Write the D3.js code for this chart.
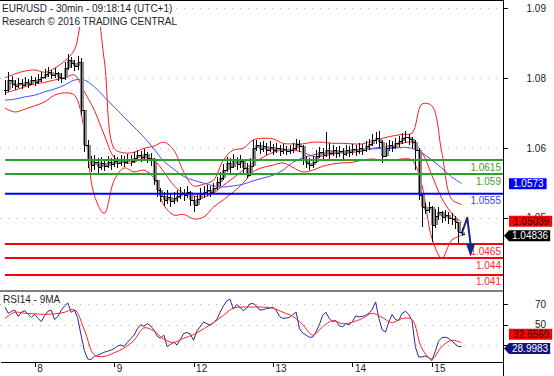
<!DOCTYPE html>
<html>
<head>
<meta charset="utf-8">
<script src="https://cdnjs.cloudflare.com/ajax/libs/d3/7.8.5/d3.min.js"></script>
<style>
  body { margin: 0; background: #fff; }
  svg { display: block; font-family: "Liberation Sans", Arial, sans-serif; }
  .grid line { stroke: #b4b4b4; stroke-dasharray: 1,7; shape-rendering: crispEdges; }
  .axis path, .axis line { stroke: #000; shape-rendering: crispEdges; }
  .axis text { fill: #222; }
</style>
</head>
<body>
<svg id="chart"></svg>
<script>
// ---- chart data -------------------------------------------------------------
const titleText = 'EUR/USD - 30min - 09:18:14 (UTC+1)';
const subtitleText = 'Research \u00a9 2016 TRADING CENTRAL';
const rsiTitle = 'RSI14 - 9MA';

// 30-min slot index of each midnight, and the day shown
const dayTicks = [18, 66, 114, 162, 210, 258];
const dayLabels = ['8', '9', '12', '13', '14', '15'];
const priceTicks = [1.0887, 1.0762, 1.0637, 1.0512];
const rsiTicks = [30, 50, 70];
const rsiTickLabels = ['', '50', '70'];   // the 30 label sits under the value boxes

// hourly bars (every second 30-min slot)
const closes = [
  1.0740,1.0758,1.0751,1.0747,1.0753,1.0749,1.0754,1.0751,1.0758,1.0754,
  1.0760,1.0763,1.0769,1.0772,1.0767,1.0771,1.0763,1.0762,1.0779,1.0794,
  1.0788,1.0783,1.0790,1.0704,1.0642,1.0615,1.0606,1.0611,1.0602,1.0610,
  1.0604,1.0611,1.0608,1.0613,1.0610,1.0615,1.0611,1.0617,1.0613,1.0619,
  1.0624,1.0620,1.0626,1.0619,1.0615,1.0579,1.0561,1.0551,1.0544,1.0549,
  1.0542,1.0547,1.0551,1.0556,1.0552,1.0558,1.0544,1.0535,1.0545,1.0554,
  1.0558,1.0561,1.0558,1.0565,1.0576,1.0583,1.0597,1.0610,1.0602,1.0615,
  1.0608,1.0613,1.0601,1.0588,1.0604,1.0636,1.0642,1.0635,1.0640,1.0633,
  1.0638,1.0633,1.0636,1.0631,1.0635,1.0631,1.0633,1.0636,1.0644,1.0640,
  1.0615,1.0610,1.0606,1.0611,1.0622,1.0629,1.0624,1.0633,1.0628,1.0633,
  1.0628,1.0631,1.0626,1.0633,1.0629,1.0635,1.0631,1.0636,1.0633,1.0640,
  1.0644,1.0651,1.0654,1.0647,1.0622,1.0636,1.0642,1.0638,1.0645,1.0649,
  1.0654,1.0656,1.0652,1.0647,1.0633,1.0552,1.0531,1.0526,1.0531,1.0499,
  1.0515,1.0522,1.0513,1.0517,1.0511,1.0510,1.0504,1.0486,1.04836
];
const highs = [
  1.0758,1.0772,1.0765,1.0758,1.0762,1.0760,1.0763,1.0760,1.0765,1.0763,
  1.0769,1.0772,1.0778,1.0781,1.0776,1.0779,1.0772,1.0771,1.0790,1.0804,
  1.0799,1.0794,1.0801,1.0797,1.0704,1.0651,1.0622,1.0624,1.0619,1.0620,
  1.0617,1.0622,1.0619,1.0624,1.0620,1.0624,1.0622,1.0626,1.0624,1.0629,
  1.0633,1.0631,1.0635,1.0629,1.0628,1.0619,1.0579,1.0565,1.0558,1.0561,
  1.0554,1.0558,1.0561,1.0567,1.0563,1.0569,1.0560,1.0551,1.0556,1.0565,
  1.0569,1.0570,1.0569,1.0574,1.0585,1.0594,1.0608,1.0620,1.0619,1.0626,
  1.0620,1.0624,1.0615,1.0610,1.0619,1.0651,1.0651,1.0647,1.0649,1.0645,
  1.0649,1.0644,1.0645,1.0642,1.0644,1.0640,1.0642,1.0645,1.0652,1.0651,
  1.0642,1.0622,1.0619,1.0622,1.0633,1.0638,1.0636,1.0665,1.0645,1.0642,
  1.0638,1.0640,1.0636,1.0642,1.0640,1.0644,1.0642,1.0645,1.0644,1.0649,
  1.0652,1.0661,1.0665,1.0667,1.0651,1.0645,1.0651,1.0649,1.0654,1.0658,
  1.0663,1.0667,1.0661,1.0656,1.0651,1.0636,1.0554,1.0538,1.0540,1.0533,
  1.0527,1.0531,1.0524,1.0526,1.0522,1.0520,1.0515,1.0504,1.0493
];
const lows = [
  1.0731,1.0737,1.0744,1.0740,1.0744,1.0742,1.0747,1.0744,1.0749,1.0747,
  1.0751,1.0754,1.0760,1.0763,1.0760,1.0762,1.0756,1.0753,1.0758,1.0776,
  1.0779,1.0774,1.0776,1.0695,1.0629,1.0601,1.0594,1.0597,1.0592,1.0597,
  1.0595,1.0601,1.0597,1.0602,1.0601,1.0604,1.0602,1.0608,1.0604,1.0610,
  1.0613,1.0611,1.0615,1.0610,1.0604,1.0570,1.0549,1.0540,1.0533,1.0536,
  1.0531,1.0536,1.0540,1.0545,1.0542,1.0547,1.0533,1.0522,1.0533,1.0544,
  1.0547,1.0551,1.0549,1.0554,1.0561,1.0569,1.0579,1.0594,1.0590,1.0601,
  1.0597,1.0601,1.0590,1.0583,1.0586,1.0602,1.0631,1.0626,1.0629,1.0624,
  1.0629,1.0624,1.0628,1.0622,1.0626,1.0624,1.0626,1.0628,1.0633,1.0629,
  1.0606,1.0601,1.0597,1.0601,1.0610,1.0619,1.0615,1.0620,1.0615,1.0622,
  1.0619,1.0620,1.0615,1.0622,1.0620,1.0624,1.0622,1.0626,1.0624,1.0629,
  1.0633,1.0640,1.0644,1.0636,1.0610,1.0622,1.0631,1.0629,1.0635,1.0638,
  1.0644,1.0645,1.0642,1.0636,1.0597,1.0544,1.0495,1.0518,1.0520,1.0468,
  1.0493,1.0508,1.0502,1.0506,1.0501,1.0499,1.0492,1.0467,1.0479
];

// indicators read every 3 hours
const bbUpper = [
  1.0762,1.0769,1.0774,1.0776,1.0772,1.0779,1.0792,1.0812,1.0880,1.0887,
  1.0794,1.0636,1.0628,1.0629,1.0636,1.0640,1.0647,1.0633,1.0594,1.0569,
  1.0572,1.0579,1.0615,1.0633,1.0636,1.0651,1.0654,1.0653,1.0645,1.0644,
  1.0644,1.0647,1.0647,1.0645,1.0645,1.0644,1.0644,1.0649,1.0654,1.0658,
  1.0661,1.0663,1.0715,1.0712,1.0629,1.0545,1.0536
];
const bbMid = [
  1.0735,1.0740,1.0746,1.0751,1.0754,1.0758,1.0762,1.0767,1.0737,1.0704,
  1.0660,1.0620,1.0610,1.0611,1.0619,1.0615,1.0594,1.0570,1.0556,1.0551,
  1.0549,1.0556,1.0570,1.0583,1.0597,1.0610,1.0620,1.0629,1.0633,1.0633,
  1.0629,1.0622,1.0622,1.0626,1.0628,1.0629,1.0631,1.0636,1.0638,1.0640,
  1.0645,1.0647,1.0629,1.0588,1.0547,1.0520,1.05039
];
const bbLower = [
  1.0708,1.0701,1.0706,1.0712,1.0719,1.0731,1.0735,1.0731,1.0669,1.0552,
  1.0520,1.0579,1.0601,1.0594,1.0597,1.0583,1.0535,1.0517,1.0518,1.0510,
  1.0513,1.0531,1.0544,1.0558,1.0574,1.0594,1.0602,1.0606,1.0610,1.0602,
  1.0594,1.0597,1.0604,1.0608,1.0610,1.0611,1.0615,1.0617,1.0615,1.0615,
  1.0617,1.0615,1.0570,1.0476,1.0440,1.0472,1.0481
];
const maBlue = [
  1.0722,1.0724,1.0728,1.0731,1.0737,1.0742,1.0749,1.0758,1.0758,1.0746,
  1.0728,1.0710,1.0692,1.0674,1.0656,1.0635,1.0613,1.0599,1.0586,1.0579,
  1.0574,1.0569,1.0567,1.0569,1.0572,1.0578,1.0583,1.0588,1.0597,1.0611,
  1.0619,1.0624,1.0628,1.0629,1.0631,1.0633,1.0633,1.0635,1.0636,1.0636,
  1.0638,1.0636,1.0628,1.0615,1.0601,1.0585,1.0573
];

// hourly RSI and its MA read every 3 hours
const rsi = [
  67,61,63,64,58,62,63.5,60,57,60,
  56,53,59,63,64,55,58,64,68,71,
  62,64,56,40,25,17,16.5,19.5,20.5,22,
  23.5,24.5,25.5,27,29.5,30.5,29,33,36.5,40,
  46,50,48.5,51,49,45,39,37,40,29,
  31,33,30.6,36,41.6,42.5,41,35,44,48,
  52.7,51,49.5,52,55,62,68,73,74.7,65,
  69.5,67,63.5,66,70,70.5,68,64,64.5,65.5,
  66,67,63.5,58,56,56.5,57,60,62,46,
  42,40,38,38,43,50,59,62,56,53,
  54,49,48,51,50,53,58.5,57.5,58,59,
  61,65,72,56,45,43,52.7,60,55,54,
  61,63,60,54,29,19,19,20,18.5,15.5,
  24,34,37.5,38,37,34.5,31.5,29,28.9983
];
const rsiMa = [
  56,62,61,60.5,60,60.5,62,64.5,45,21,
  19.5,23,27.5,35,47,44,36,33,37,40.5,
  46,52,59,66,67,67,67,66,62,58,
  50,40,48,54,51,52.5,56,61,57,52,
  56,55,27,17,29,35,32.6569
];

// support / resistance levels and their kind
const levelValues = [1.0615, 1.059, 1.0555, 1.0465, 1.044, 1.041];
const levelKinds = ['res', 'res', 'pivot', 'sup', 'sup', 'sup'];

// forecast path: hour index and price
const forecastHours = [138, 139.7, 140.7];
const forecastValues = [1.04836, 1.0512, 1.0465];

// ---- layout -----------------------------------------------------------------
const width = 554, height = 376;
const axisX = 503;
const pricePanel = {top: 0, bottom: 290};
const rsiPanel = {top: 291, bottom: 362};
const font = '"Liberation Sans", Arial, sans-serif';

const levelStyle = {
  res:   {line: '#2e9e2e', text: '#4c9a2a'},
  pivot: {line: '#0000ff', text: '#3c3cff'},
  sup:   {line: '#ff0000', text: '#ff2a2a'}
};

const svg = d3.select('#chart').attr('width', width).attr('height', height);

const xScale = d3.scaleLinear().domain([-3, 301]).range([0, axisX]);
const yPrice = d3.scaleLinear().domain([1.0383, 1.0901]).range([pricePanel.bottom, pricePanel.top]);
const yRsi = d3.scaleLinear().domain([14.1, 82.5]).range([rsiPanel.bottom, rsiPanel.top]);

const hourX = i => xScale(i * 2);
const bandX = i => xScale(i * 6);
const crisp = v => Math.round(v) + 0.5;

const defs = svg.append('defs');
defs.append('clipPath').attr('id', 'clip-price').append('rect')
    .attr('x', 0).attr('y', 1).attr('width', axisX).attr('height', pricePanel.bottom - 1);
defs.append('clipPath').attr('id', 'clip-rsi').append('rect')
    .attr('x', 0).attr('y', rsiPanel.top + 1).attr('width', axisX).attr('height', rsiPanel.bottom - rsiPanel.top - 1);

// dotted grid
const grid = svg.append('g').attr('class', 'grid');
grid.append('g').selectAll('line').data(priceTicks).join('line')
    .attr('x1', 0).attr('x2', axisX)
    .attr('y1', d => crisp(yPrice(d))).attr('y2', d => crisp(yPrice(d)));
grid.append('g').selectAll('line').data(rsiTicks).join('line')
    .attr('x1', 0).attr('x2', axisX)
    .attr('y1', d => crisp(yRsi(d))).attr('y2', d => crisp(yRsi(d)));

// ---- price panel ------------------------------------------------------------
const priceG = svg.append('g').attr('clip-path', 'url(#clip-price)');

const bandLine = d3.line()
    .x((d, i) => bandX(i))
    .y(d => yPrice(d))
    .curve(d3.curveCatmullRom.alpha(0.5));

[bbUpper, bbMid, bbLower].forEach(s => {
    priceG.append('path')
        .attr('d', bandLine(s))
        .attr('fill', 'none')
        .attr('stroke', '#ff1a1a')
        .attr('stroke-width', 1);
});
priceG.append('path')
    .attr('d', bandLine(maBlue))
    .attr('fill', 'none')
    .attr('stroke', '#4a4aff')
    .attr('stroke-width', 1);

// OHLC bars, open = previous close; a grey body underneath thickens the dense look
const barG = priceG.append('g').attr('shape-rendering', 'crispEdges');
barG.append('g').selectAll('line').data(closes).join('line')
    .attr('x1', (c, i) => Math.round(hourX(i)) + 0.5)
    .attr('x2', (c, i) => Math.round(hourX(i)) + 0.5)
    .attr('y1', (c, i) => yPrice(Math.max(c, i ? closes[i - 1] : c)))
    .attr('y2', (c, i) => yPrice(Math.min(c, i ? closes[i - 1] : c)))
    .attr('stroke', '#8c8c8c')
    .attr('stroke-width', 4);
barG.append('g').selectAll('path').data(closes).join('path')
    .attr('fill', 'none')
    .attr('stroke', '#0a0a0a')
    .attr('stroke-width', 1)
    .attr('d', (c, i) => {
        const x = crisp(hourX(i));
        const open = i ? closes[i - 1] : c;
        const yo = crisp(yPrice(open)), yc = crisp(yPrice(c));
        return `M${x},${yPrice(highs[i])}V${yPrice(lows[i])}` +
               `M${x - 2},${yo}H${x}M${x},${yc}H${x + 2}`;
    });

// level lines with labels
const levelG = svg.append('g');
levelValues.forEach((v, i) => {
    const st = levelStyle[levelKinds[i]];
    const y = yPrice(v);
    levelG.append('line')
        .attr('x1', xScale(0)).attr('x2', axisX)
        .attr('y1', y).attr('y2', y)
        .attr('stroke', st.line)
        .attr('stroke-width', 2);
    const t = levelG.append('text')
        .attr('x', 501).attr('y', y + 10.5)
        .attr('text-anchor', 'end')
        .attr('font-size', 10)
        .attr('fill', st.text)
        .text(String(v));
    const bb = t.node().getBBox();
    levelG.insert('rect', () => t.node())
        .attr('x', bb.x - 1).attr('y', y + 1.5)
        .attr('width', bb.width + 1).attr('height', bb.height - 1)
        .attr('fill', '#fff');
});

// forecast arrow
const forecastPts = forecastHours.map((h, i) => [hourX(h), yPrice(forecastValues[i])]);
svg.append('path')
    .attr('d', d3.line()(forecastPts))
    .attr('fill', 'none')
    .attr('stroke', '#1c2580')
    .attr('stroke-width', 2)
    .attr('stroke-linejoin', 'round');
const [ex, ey] = forecastPts[forecastPts.length - 1];
svg.append('path')
    .attr('d', `M${ex - 4.5},${ey}L${ex + 4.5},${ey}L${ex},${ey + 12.5}Z`)
    .attr('fill', '#1c2580');

// ---- RSI panel ----------------------------------------------------------------
const rsiG = svg.append('g').attr('clip-path', 'url(#clip-rsi)');
rsiG.append('path')
    .attr('d', d3.line().x((d, i) => hourX(i)).y(d => yRsi(d))(rsi))
    .attr('fill', 'none')
    .attr('stroke', '#28289a')
    .attr('stroke-width', 1);
rsiG.append('path')
    .attr('d', d3.line().x((d, i) => bandX(i)).y(d => yRsi(d)).curve(d3.curveCatmullRom.alpha(0.5))(rsiMa))
    .attr('fill', 'none')
    .attr('stroke', '#ff2424')
    .attr('stroke-width', 1);

// ---- frame & axes -----------------------------------------------------------
svg.append('line').attr('x1', 0).attr('x2', axisX).attr('y1', 0.5).attr('y2', 0.5)
    .attr('stroke', '#000');
svg.append('line').attr('x1', 0).attr('x2', axisX).attr('y1', 291).attr('y2', 291)
    .attr('stroke', '#808080').attr('stroke-width', 2);
svg.append('line').attr('x1', axisX + 0.5).attr('x2', axisX + 0.5).attr('y1', 0).attr('y2', height)
    .attr('stroke', '#000');

function styleAxis(g) {
    g.attr('font-family', font).attr('font-size', 10);
    g.select('.domain').remove();
    g.selectAll('.tick text').attr('x', 43).attr('text-anchor', 'end');
}

svg.append('g')
    .attr('class', 'axis')
    .attr('transform', `translate(${axisX},0)`)
    .call(d3.axisRight(yPrice).tickValues(priceTicks).tickSize(5).tickFormat(d3.format('.2f')))
    .call(styleAxis);

svg.append('g')
    .attr('class', 'axis')
    .attr('transform', `translate(${axisX},0)`)
    .call(d3.axisRight(yRsi).tickValues(rsiTicks).tickSize(5).tickFormat((d, i) => rsiTickLabels[i]))
    .call(styleAxis);

svg.append('g')
    .attr('class', 'axis')
    .attr('transform', `translate(0,${rsiPanel.bottom})`)
    .call(d3.axisBottom(xScale).tickValues(dayTicks).tickSize(5).tickSizeOuter(0)
        .tickFormat((d, i) => dayLabels[i]))
    .call(g => g.attr('font-family', font).attr('font-size', 10))
    .call(g => g.selectAll('.tick text').attr('x', 2).attr('y', 3).attr('text-anchor', 'start'));

// ---- titles ------------------------------------------------------------------
svg.append('rect').attr('x', 0).attr('y', 1).attr('width', 168).attr('height', 26).attr('fill', '#fff');
svg.append('text').attr('x', 2).attr('y', 12).attr('font-size', 10).attr('fill', '#1e1e2e').text(titleText);
svg.append('text').attr('x', 2).attr('y', 24.5).attr('font-size', 10).attr('fill', '#1e1e2e').text(subtitleText);
svg.append('text').attr('x', 3).attr('y', 303).attr('font-size', 10).attr('fill', '#1e1e2e').text(rsiTitle);

// ---- last-value boxes --------------------------------------------------------
function valueBox(cy, value, fill, textFill, isArrow) {
    const g = svg.append('g');
    const tx = isArrow ? 512 : 513;
    const t = g.append('text')
        .attr('x', tx).attr('y', cy).attr('dy', '0.36em')
        .attr('font-size', 10).attr('fill', textFill)
        .text(value);
    const right = tx + t.node().getComputedTextLength() + (isArrow ? 2 : 3);
    const d = isArrow
        ? `M${axisX + 1},${cy}L509,${cy - 5.5}H${right}V${cy + 5.5}H509Z`
        : `M509,${cy - 5.5}H${right}V${cy + 5.5}H509Z`;
    g.insert('path', 'text').attr('d', d).attr('fill', fill);
}

// keep two boxes apart: the arrow box gives way by up to 2px, the other takes the rest
function separate(otherY, arrowY) {
    const gap = 14.4;
    const diff = Math.abs(otherY - arrowY);
    if (diff >= gap) return [otherY, arrowY];
    const need = gap - diff;
    const dir = otherY < arrowY ? -1 : 1;
    const arrowShift = Math.min(2, need);
    return [otherY + dir * (need - arrowShift), arrowY - dir * arrowShift];
}

const lastClose = closes[closes.length - 1];
const lastMid = bbMid[bbMid.length - 1];
const lastMa = maBlue[maBlue.length - 1];
const lastRsi = rsi[rsi.length - 1];
const lastRsiMa = rsiMa[rsiMa.length - 1];

valueBox(yPrice(lastMa), lastMa.toFixed(4), '#0000ff', '#fff', false);
const [midY, closeY] = separate(yPrice(lastMid), yPrice(lastClose));
valueBox(midY, lastMid.toFixed(5), '#ff0000', '#111', false);
valueBox(closeY, lastClose.toFixed(5), '#000', '#fff', true);

const [rsiMaY, rsiY] = separate(yRsi(lastRsiMa), yRsi(lastRsi));
valueBox(rsiMaY, lastRsiMa.toFixed(4), '#ff0000', '#111', false);
valueBox(rsiY, lastRsi.toFixed(4), '#12127a', '#fff', true);
</script>
</body>
</html>
